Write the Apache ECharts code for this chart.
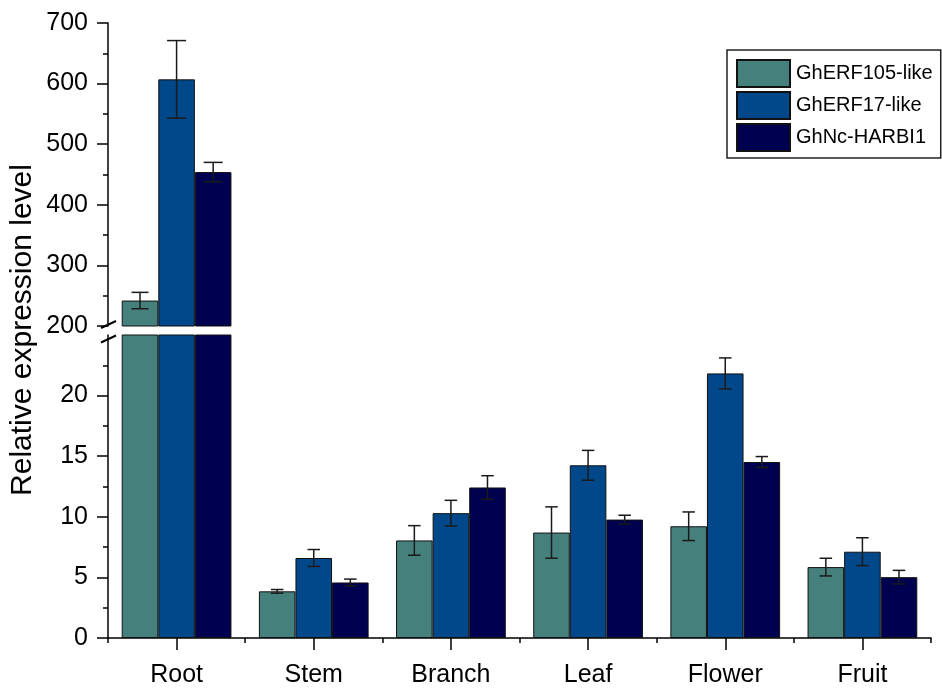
<!DOCTYPE html>
<html>
<head>
<meta charset="utf-8">
<script src="https://cdn.jsdelivr.net/npm/echarts@6/dist/echarts.min.js"></script>
<style>html,body{margin:0;padding:0;background:#fff}#c{width:942px;height:691px}</style>
</head>
<body>
<div id="c"></div>
<script>
// ---- data ----
const categories = ['Root', 'Stem', 'Branch', 'Leaf', 'Flower', 'Fruit'];
const seriesNames = ['GhERF105-like', 'GhERF17-like', 'GhNc-HARBI1'];
const erf105 = [242, 3.85, 8.05, 8.7, 9.22, 5.85];
const erf105Err = [13.5, 0.15, 1.22, 2.12, 1.18, 0.73];
const erf17 = [607, 6.6, 10.3, 14.25, 21.83, 7.12];
const erf17Err = [64, 0.7, 1.06, 1.23, 1.28, 1.15];
const nc = [454, 4.58, 12.42, 9.77, 14.52, 5.02];
const ncErr = [16, 0.28, 0.97, 0.36, 0.45, 0.56];
const upperTicks = [200, 300, 400, 500, 600, 700];
const lowerTicks = [0, 5, 10, 15, 20];
const upperRange = [200, 700];
const lowerRange = [0, 25];

// ---- styles ----
const colors = ['#45807D', '#00488A', '#000050'];
const FONT = '"Liberation Sans", Arial, sans-serif';
const values = [erf105, erf17, nc];
const errors = [erf105Err, erf17Err, ncErr];
const BAR_GROUP = 0.8;

const chart = echarts.init(document.getElementById('c'), null, {renderer: 'canvas'});

function barSeries(i, gridIdx) {
  const vals = values[i];
  return {
    name: seriesNames[i],
    type: 'bar',
    xAxisIndex: gridIdx,
    yAxisIndex: gridIdx,
    data: gridIdx === 0 ? vals.map(v => v > upperRange[0] ? v : null) : vals.slice(),
    barGap: '0%',
    barCategoryGap: '20%',
    clip: true,
    itemStyle: {color: colors[i], borderColor: '#111', borderWidth: 1},
    emphasis: {disabled: true},
    animation: false
  };
}

function errSeries(i, gridIdx, capW) {
  const vals = values[i], errs = errors[i];
  const data = vals.map((v, k) => [k, v, errs[k]]).filter(d =>
    gridIdx === 0 ? d[1] > upperRange[0] : d[1] <= lowerRange[1]);
  return {
    type: 'custom',
    name: 'err' + i + '_' + gridIdx,
    xAxisIndex: gridIdx,
    yAxisIndex: gridIdx,
    z: 10,
    encode: {x: 0, y: 1},
    data: data,
    animation: false,
    renderItem: function (params, api) {
      const k = api.value(0), v = api.value(1), e = api.value(2);
      const band = api.size([1, 0])[0];
      const barW = band * BAR_GROUP / 3;
      const x = api.coord([k, v])[0] + (i - 1) * barW;
      const yT = api.coord([k, v + e])[1];
      const yB = api.coord([k, v - e])[1];
      const st = {stroke: '#1a1a1a', lineWidth: 1.5};
      return {
        type: 'group',
        children: [
          {type: 'line', shape: {x1: x, y1: yT, x2: x, y2: yB}, style: st},
          {type: 'line', shape: {x1: x - capW / 2, y1: yT, x2: x + capW / 2, y2: yT}, style: st},
          {type: 'line', shape: {x1: x - capW / 2, y1: yB, x2: x + capW / 2, y2: yB}, style: st}
        ]
      };
    }
  };
}

const axisLineStyle = {color: '#000', width: 1.5};
const labelStyle = {color: '#000', fontSize: 25, fontFamily: FONT};

const option = {
  backgroundColor: '#fff',
  animation: false,
  textStyle: {fontFamily: FONT},
  grid: [
    {left: 108, right: 11, top: 23, height: 303},
    {left: 108, right: 11, top: 335, bottom: 53}
  ],
  legend: {
    data: seriesNames,
    orient: 'vertical',
    left: 727,
    top: 50,
    padding: [9, 8, 6, 9],
    itemWidth: 53,
    itemHeight: 27,
    itemGap: 3,
    icon: 'rect',
    borderColor: '#222',
    borderWidth: 1.5,
    itemStyle: {borderColor: '#111', borderWidth: 2},
    textStyle: {color: '#000', fontSize: 20, fontFamily: FONT, padding: [0, 0, 0, 1]},
    selectedMode: false
  },
  xAxis: [
    {type: 'category', gridIndex: 0, data: categories, show: false},
    {
      type: 'category', gridIndex: 1, data: categories, position: 'bottom',
      axisLine: {show: true, lineStyle: axisLineStyle},
      axisTick: {show: true, alignWithLabel: true, length: 12, lineStyle: axisLineStyle},
      axisLabel: Object.assign({margin: 25}, labelStyle)
    },
    {
      type: 'category', gridIndex: 1, data: categories, position: 'bottom', offset: 0,
      axisLine: {show: false},
      axisTick: {show: true, alignWithLabel: false, length: 5, lineStyle: axisLineStyle},
      axisLabel: {show: false}
    }
  ],
  yAxis: [
    {
      type: 'value', gridIndex: 0, min: upperRange[0], max: upperRange[1], interval: 100,
      splitLine: {show: false},
      axisLine: {show: true, lineStyle: axisLineStyle},
      axisTick: {show: true, length: 11, lineStyle: axisLineStyle, customValues: upperTicks},
      minorTick: {show: true, splitNumber: 2, length: 5, lineStyle: axisLineStyle},
      axisLabel: Object.assign({margin: 20, customValues: upperTicks}, labelStyle)
    },
    {
      type: 'value', gridIndex: 1, min: lowerRange[0], max: lowerRange[1], interval: 5,
      splitLine: {show: false},
      axisLine: {show: true, lineStyle: axisLineStyle},
      axisTick: {show: true, length: 11, lineStyle: axisLineStyle, customValues: lowerTicks},
      minorTick: {show: true, splitNumber: 2, length: 5, lineStyle: axisLineStyle},
      axisLabel: Object.assign({margin: 20, customValues: lowerTicks}, labelStyle)
    }
  ],
  series: [
    barSeries(0, 0), barSeries(1, 0), barSeries(2, 0),
    barSeries(0, 1), barSeries(1, 1), barSeries(2, 1),
    errSeries(0, 0, 17), errSeries(1, 0, 19), errSeries(2, 0, 19),
    errSeries(0, 1, 12.5), errSeries(1, 1, 12.5), errSeries(2, 1, 12.5)
  ],
  graphic: [
    {
      type: 'text', x: 23, y: 330, rotation: Math.PI / 2,
      style: {text: 'Relative expression level', fontSize: 30, fontFamily: FONT, fill: '#000',
              textAlign: 'center', textVerticalAlign: 'middle'}
    }
  ]
};
chart.setOption(option);

// axis-break slashes, positioned from the axes themselves
const c0 = chart.convertToPixel({xAxisIndex: 1}, categories[0]);
const c1 = chart.convertToPixel({xAxisIndex: 1}, categories[1]);
const axisX = c0 - (c1 - c0) / 2;
const yUp = chart.convertToPixel({yAxisIndex: 0}, upperRange[0]);
const yLow = chart.convertToPixel({yAxisIndex: 1}, lowerRange[1]);
const slash = (cy) => ({
  type: 'line', z: 100,
  shape: {x1: axisX - 7, y1: cy + 3.5, x2: axisX + 8, y2: cy - 3.5},
  style: {stroke: '#000', lineWidth: 2}
});
chart.setOption({
  graphic: [
    option.graphic[0],
    slash(yUp - 1.5),
    slash(yLow + 4)
  ]
});
</script>
</body>
</html>
